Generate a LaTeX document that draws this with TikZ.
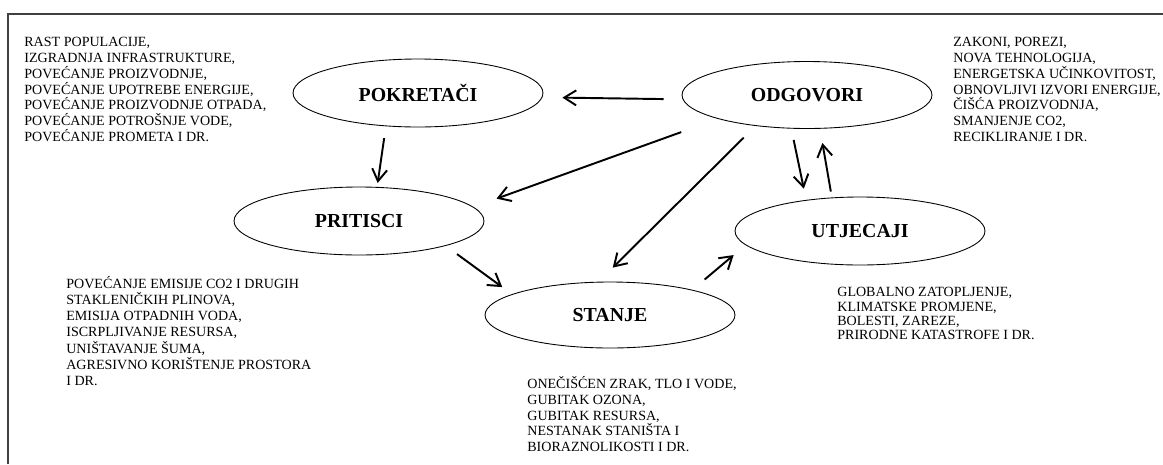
\documentclass[tikz,border=0pt]{standalone}
\usepackage{fontspec}
\setmainfont{Liberation Serif}
\usetikzlibrary{shapes.geometric,arrows.meta}

\begin{document}
\begin{tikzpicture}[x=0.02cm,y=-0.02cm,
  krug/.style={ellipse,draw,line width=0.5pt,minimum width=5cm,minimum height=1.34cm,
    font=\fontsize{11.3}{13}\selectfont\bfseries},
  opis/.style={anchor=north west,inner sep=0pt,align=left,font=\fontsize{8}{9}\selectfont},
  strelica/.style={-{Straight Barb[length=2.4mm,width=3mm]},line width=1.1pt}]
\useasboundingbox (0,0) rectangle (1163,464);
\draw[line width=0.8pt,black!75] (8,464) -- (8,14) -- (1163,14);

\node[krug,minimum height=1.36cm] (pok) at (418,93) {POKRETAČI};
\node[krug] (odg) at (807,95) {ODGOVORI};
\node[krug,minimum height=1.36cm] (pri) at (359,221) {PRITISCI};
\node[krug,minimum height=1.36cm] (utj) at (860,231) {UTJECAJI};
\node[krug,minimum height=1.32cm] (sta) at (610,315) {STANJE};

\node[opis] (pokopis) at (24,37) {RAST POPULACIJE,\\IZGRADNJA INFRASTRUKTURE,\\POVEĆANJE PROIZVODNJE,\\POVEĆANJE UPOTREBE ENERGIJE,\\POVEĆANJE PROIZVODNJE OTPADA,\\POVEĆANJE POTROŠNJE VODE,\\POVEĆANJE PROMETA I DR.};
\node[opis] (odgopis) at (953,37) {ZAKONI, POREZI,\\NOVA TEHNOLOGIJA,\\ENERGETSKA UČINKOVITOST,\\OBNOVLJIVI IZVORI ENERGIJE,\\ČIŠĆA PROIZVODNJA,\\SMANJENJE CO2,\\RECIKLIRANJE I DR.};
\node[opis,font=\fontsize{8}{9.2}\selectfont] (priopis) at (66,276) {POVEĆANJE EMISIJE CO2 I DRUGIH\\STAKLENIČKIH PLINOVA,\\EMISIJA OTPADNIH VODA,\\ISCRPLJIVANJE RESURSA,\\UNIŠTAVANJE ŠUMA,\\AGRESIVNO KORIŠTENJE PROSTORA\\I DR.};
\node[opis] (staopis) at (527,376) {ONEČIŠĆEN ZRAK, TLO I VODE,\\GUBITAK OZONA,\\GUBITAK RESURSA,\\NESTANAK STANIŠTA I\\BIORAZNOLIKOSTI I DR.};
\node[opis,font=\fontsize{8}{8.2}\selectfont] (utjopis) at (837,287) {GLOBALNO ZATOPLJENJE,\\KLIMATSKE PROMJENE,\\BOLESTI, ZAREZE,\\PRIRODNE KATASTROFE I DR.};

\draw[strelica,shorten <=0.38cm,shorten >=0.4cm] (odg.182) -- (pok.-2);
\draw[strelica,shorten <=0.24cm,shorten >=0.08cm] (pok.226) -- (pri.62);
\draw[strelica,shorten <=0.78cm,shorten >=0.49cm] (odg.195) -- (pri.7);
\draw[strelica,shorten <=0.33cm,shorten >=0.4cm] (odg.211) -- (sta.109);
\draw[strelica,shorten <=0.23cm,shorten >=0.23cm] (odg.245) -- (utj.150);
\draw[strelica,shorten <=0.12cm,shorten >=0.29cm] (utj.130) -- (odg.291);
\draw[strelica,shorten <=0.28cm,shorten >=0.24cm] (pri.-16) -- (sta.168);
\draw[strelica,shorten <=0.32cm,shorten >=0.31cm] (sta.17) -- (utj.187);
\end{tikzpicture}
\end{document}
